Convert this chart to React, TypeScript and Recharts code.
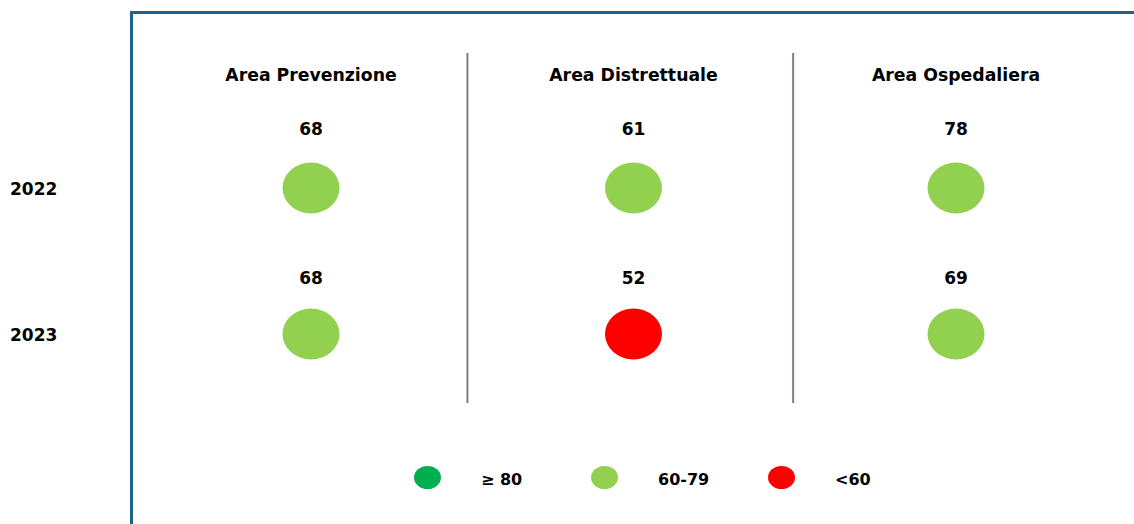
import { ScatterChart, Scatter, XAxis, YAxis, ReferenceLine } from "recharts"

const areas = ["Area Prevenzione", "Area Distrettuale", "Area Ospedaliera"]
const years = ["2022", "2023"]
const values2022 = [68, 61, 78]
const values2023 = [68, 52, 69]
const separators = [0.485, 1.495]

const bands = [
  { label: "≥ 80", min: 80, color: "#00B050" },
  { label: "60-79", min: 60, color: "#92D050" },
  { label: "<60", min: -Infinity, color: "#FF0000" },
]

const colorFor = (v: number) => bands.find((b) => v >= b.min)!.color

const points = [values2022, values2023].flatMap((vals, row) =>
  vals.map((value, col) => ({ col, row, value }))
)

const FONT = "'DejaVu Sans', Verdana, sans-serif"

const Dot = (props: any) => {
  const { cx, cy, payload } = props
  return (
    <g>
      <text
        x={cx}
        y={cy - 53 + payload.row * 3}
        textAnchor="middle"
        fontFamily={FONT}
        fontWeight="bold"
        fontSize={17}
        fill="#000"
      >
        {payload.value}
      </text>
      <ellipse cx={cx} cy={cy} rx={28.5} ry={25.5} fill={colorFor(payload.value)} />
    </g>
  )
}

const HeaderTick = (props: any) => (
  <text
    x={props.x}
    y={81}
    textAnchor="middle"
    fontFamily={FONT}
    fontWeight="bold"
    fontSize={17.3}
    fill="#000"
  >
    {areas[props.payload.value]}
  </text>
)

const YearTick = (props: any) => (
  <text
    x={10}
    y={props.y + 7}
    textAnchor="start"
    fontFamily={FONT}
    fontWeight="bold"
    fontSize={17}
    fill="#000"
  >
    {years[props.payload.value]}
  </text>
)

export default function App() {
  return (
    <div
      style={{
        position: "absolute",
        left: 0,
        top: 0,
        width: 1134,
        height: 524,
        overflow: "hidden",
        background: "#fff",
      }}
    >
      <div
        style={{
          position: "absolute",
          left: 130,
          top: 11,
          width: 1020,
          height: 560,
          borderTop: "3px solid #1F618D",
          borderLeft: "3px solid #1F618D",
        }}
      />
      <div style={{ position: "absolute", left: 0, top: 0 }}>
        <ScatterChart
          width={1134}
          height={524}
          margin={{ top: 23, right: 178, bottom: 121, left: 0 }}
        >
          <XAxis
            type="number"
            dataKey="col"
            orientation="top"
            domain={[0, 2]}
            ticks={[0, 1, 2]}
            height={30}
            axisLine={false}
            tickLine={false}
            tick={<HeaderTick />}
            interval={0}
          />
          <YAxis
            type="number"
            dataKey="row"
            domain={[-0.925, 1.473]}
            ticks={[0, 1]}
            reversed
            width={311}
            axisLine={false}
            tickLine={false}
            tick={<YearTick />}
            interval={0}
          />
          {separators.map((x) => (
            <ReferenceLine key={x} x={x} stroke="#7F7F8C" strokeWidth={2} />
          ))}
          <Scatter data={points} shape={<Dot />} isAnimationActive={false} />
        </ScatterChart>
      </div>
      <div
        style={{
          position: "absolute",
          left: 414,
          top: 465,
          display: "flex",
          alignItems: "center",
          fontFamily: FONT,
          fontWeight: "bold",
          fontSize: 16,
          color: "#000",
        }}
      >
        {bands.map((b) => (
          <div key={b.label} style={{ display: "flex", alignItems: "center" }}>
            <span
              style={{
                display: "inline-block",
                width: 27,
                height: 23,
                borderRadius: "50%",
                background: b.color,
              }}
            />
            <span style={{ marginLeft: 40, width: 110, marginTop: 5 }}>{b.label}</span>
          </div>
        ))}
      </div>
    </div>
  )
}
